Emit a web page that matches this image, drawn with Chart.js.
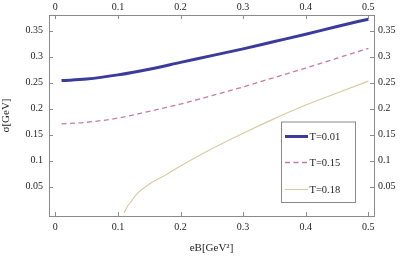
<!DOCTYPE html>
<html>
<head>
<meta charset="utf-8">
<style>
  html, body { margin: 0; padding: 0; background: #fff; }
  #c { display: block; }
</style>
<script src="https://cdn.jsdelivr.net/npm/chart.js@4.4.1/dist/chart.umd.min.js"></script>
</head>
<body>
<canvas id="c" width="415" height="259"></canvas>
<script>
// ---- data ----
const xMain   = [0.01, 0.05, 0.10, 0.15, 0.20, 0.25, 0.30, 0.35, 0.40, 0.45, 0.50];
const sigmaT001 = [0.254, 0.257, 0.265, 0.276, 0.289, 0.302, 0.315, 0.329, 0.343, 0.358, 0.372];
const sigmaT015 = [0.171, 0.174, 0.182, 0.195, 0.209, 0.225, 0.242, 0.260, 0.278, 0.297, 0.316];
const xT018     = [0.110, 0.115, 0.120, 0.130, 0.150, 0.175, 0.200, 0.250, 0.300, 0.350, 0.400, 0.450, 0.500];
const sigmaT018 = [0.000, 0.012, 0.020, 0.036, 0.055, 0.072, 0.090, 0.123, 0.153, 0.181, 0.207, 0.230, 0.253];
const seriesLabels = ['T=0.01', 'T=0.15', 'T=0.18'];
const xTickValues = [0, 0.1, 0.2, 0.3, 0.4, 0.5];
const yTickValues = [0.05, 0.1, 0.15, 0.2, 0.25, 0.3, 0.35];
const xTitle = 'eB[GeV²]';
const yTitle = 'σ[GeV]';

const pts = (xs, ys) => xs.map((x, i) => ({x: x, y: ys[i]}));

const AXIS = '#8a8a8a';
const FONT = "'Liberation Serif', 'Times New Roman', serif";
const COLORS = ['#3b3b9d', '#c67c9f', '#d8caa0'];

const fixTicks = (vals) => (scale) => { scale.ticks = vals.map(v => ({value: v})); };
const fmt = (v) => String(+v.toFixed(2));

function sizeFix(w, h) {
  return function (scale) {
    if (w !== null) scale.width = w;
    if (h !== null) scale.height = h;
    scale.paddingLeft = 0; scale.paddingRight = 0;
    scale.paddingTop = 0; scale.paddingBottom = 0;
  };
}

const innerTicks = {
  id: 'innerTicks',
  afterDraw(chart) {
    const {ctx, chartArea: a, scales} = chart;
    const L = 4;
    ctx.save();
    ctx.strokeStyle = AXIS;
    ctx.lineWidth = 1;
    ctx.beginPath();
    xTickValues.forEach(v => {
      const px = Math.round(scales.x.getPixelForValue(v)) + 0.5;
      ctx.moveTo(px, a.bottom); ctx.lineTo(px, a.bottom - L);
      ctx.moveTo(px, a.top); ctx.lineTo(px, a.top + L);
    });
    yTickValues.forEach(v => {
      const py = Math.round(scales.y.getPixelForValue(v)) + 0.5;
      ctx.moveTo(a.left, py); ctx.lineTo(a.left + L, py);
      ctx.moveTo(a.right, py); ctx.lineTo(a.right - L, py);
    });
    ctx.stroke();
    ctx.restore();
  }
};

const boxLegend = {
  id: 'boxLegend',
  afterDraw(chart) {
    const {ctx, chartArea: a} = chart;
    const bx = a.right - 92.5, by = a.bottom - 94, bw = 74, bh = 80.5;
    ctx.save();
    ctx.fillStyle = '#fff';
    ctx.fillRect(bx, by, bw, bh);
    ctx.strokeStyle = AXIS;
    ctx.lineWidth = 1;
    ctx.strokeRect(bx, by, bw, bh);
    chart.data.datasets.forEach((ds, i) => {
      const y = Math.round(by + 14 + i * 26.3) + 0.5;
      ctx.beginPath();
      ctx.strokeStyle = ds.borderColor;
      ctx.lineWidth = ds.borderWidth;
      ctx.setLineDash(ds.borderDash || []);
      ctx.moveTo(bx + 3.5, y); ctx.lineTo(bx + 26.5, y);
      ctx.stroke();
      ctx.setLineDash([]);
      ctx.fillStyle = '#222';
      ctx.font = '10.5px ' + FONT;
      ctx.textAlign = 'left';
      ctx.textBaseline = 'middle';
      ctx.fillText(ds.label, bx + 28, y + 0.5);
    });
    ctx.restore();
  }
};

const tickFont = {family: FONT, size: 10};

new Chart(document.getElementById('c'), {
  type: 'line',
  data: {
    datasets: [
      {label: seriesLabels[0], data: pts(xMain, sigmaT001), borderColor: COLORS[0], borderWidth: 3, pointRadius: 0, cubicInterpolationMode: 'monotone', fill: false},
      {label: seriesLabels[1], data: pts(xMain, sigmaT015), borderColor: COLORS[1], borderWidth: 1.3, borderDash: [5, 3.5], pointRadius: 0, cubicInterpolationMode: 'monotone', fill: false},
      {label: seriesLabels[2], data: pts(xT018, sigmaT018), borderColor: COLORS[2], borderWidth: 1.1, pointRadius: 0, cubicInterpolationMode: 'monotone', fill: false}
    ]
  },
  options: {
    responsive: false,
    animation: false,
    layout: {padding: 0},
    plugins: {legend: {display: false}, tooltip: {enabled: false}},
    scales: {
      x: {
        type: 'linear', position: 'bottom', min: -0.01, max: 0.509,
        afterBuildTicks: fixTicks(xTickValues),
        afterFit: sizeFix(null, 43),
        grid: {display: false, drawTicks: false},
        border: {display: true, color: AXIS, width: 1},
        ticks: {font: tickFont, color: '#222', padding: 5, maxRotation: 0, callback: fmt},
        title: {display: true, text: xTitle, font: {family: FONT, size: 11}, color: '#222', padding: {top: 0, bottom: 4}}
      },
      x2: {
        type: 'linear', position: 'top', min: -0.01, max: 0.509,
        afterBuildTicks: fixTicks(xTickValues),
        afterFit: sizeFix(null, 15),
        grid: {display: false, drawTicks: false},
        border: {display: true, color: AXIS, width: 1},
        ticks: {font: tickFont, color: '#222', padding: 2, maxRotation: 0, callback: fmt}
      },
      y: {
        type: 'linear', position: 'left', min: -0.006, max: 0.38,
        afterBuildTicks: fixTicks(yTickValues),
        afterFit: sizeFix(49, null),
        grid: {display: false, drawTicks: false},
        border: {display: true, color: AXIS, width: 1},
        ticks: {font: tickFont, color: '#222', padding: 6, callback: fmt},
        title: {display: true, text: yTitle, font: {family: FONT, size: 11}, color: '#222', padding: {top: 0, bottom: 0}}
      },
      y2: {
        type: 'linear', position: 'right', min: -0.006, max: 0.38,
        afterBuildTicks: fixTicks(yTickValues),
        afterFit: sizeFix(41, null),
        grid: {display: false, drawTicks: false},
        border: {display: true, color: AXIS, width: 1},
        ticks: {font: tickFont, color: '#222', padding: 4, callback: fmt}
      }
    }
  },
  plugins: [innerTicks, boxLegend]
});
</script>
</body>
</html>
